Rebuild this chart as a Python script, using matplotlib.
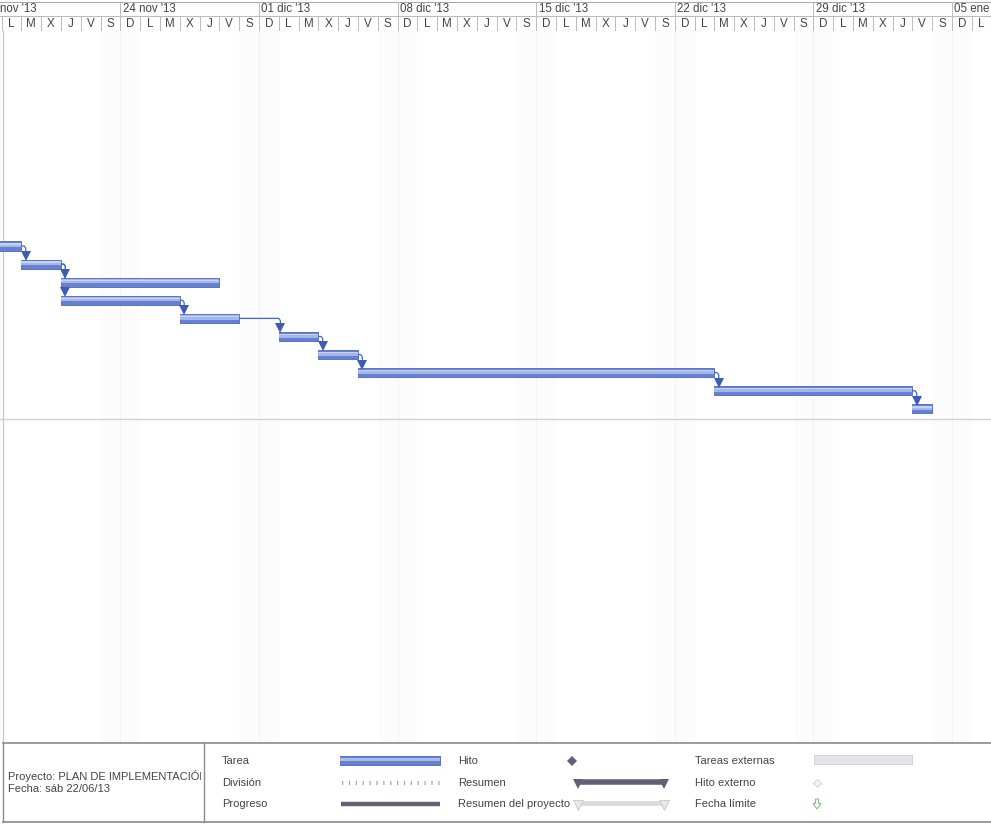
import matplotlib
matplotlib.use("Agg")
import matplotlib.pyplot as plt
from matplotlib.patches import Rectangle, Polygon

plt.rcParams['font.family'] = ['Liberation Sans', 'DejaVu Sans']

# ---- data -------------------------------------------------------------
# Day 0 = domingo 17 nov 2013
week_labels = ["17 nov '13", "24 nov '13", "01 dic '13", "08 dic '13",
               "15 dic '13", "22 dic '13", "29 dic '13", "05 ene '14"]
day_letters = ["D", "L", "M", "X", "J", "V", "S"]

task_start = [0, 2, 4, 4, 10, 15, 17, 19, 37, 47]
task_end = [2, 4, 12, 10, 13, 17, 19, 37, 47, 48]
task_pred = [None, 0, 1, 1, 3, 4, 5, 6, 7, 8]

legend_col1 = ["Tarea", "División", "Progreso"]
legend_col2 = ["Hito", "Resumen", "Resumen del proyecto"]
legend_col3 = ["Tareas externas", "Hito externo", "Fecha límite"]
project_info = ["Proyecto: PLAN DE IMPLEMENTACIÓN", "Fecha: sáb 22/06/13"]

# ---- geometry ---------------------------------------------------------
W, H = 991, 826
DAY_PX = 19.8
X0_PX = -18.2          # pixel position of day 0
ROW_PX = 18.1
ROW0_PX = 246          # pixel centre of first task row

x_lo = (0 - X0_PX) / DAY_PX
x_hi = (W - X0_PX) / DAY_PX

fig = plt.figure(figsize=(W / 100, H / 100), dpi=100)
fig.patch.set_facecolor("white")


def fax(x0, y0, x1, y1):
    """Axes placed by pixel box (top-left origin)."""
    return fig.add_axes([x0 / W, 1 - y1 / H, (x1 - x0) / W, (y1 - y0) / H])


GRID = "#bcbcbc"
TXT = "#444444"
FS = 8.0

# ---- timescale header -------------------------------------------------
hdr = fax(0, 2, W, 31)
hdr.set_xlim(x_lo, x_hi)
hdr.set_ylim(0, 2)
hdr.axis("off")
n_days = int(x_hi) + 2
hdr.axhline(2, color="#9a9a9a", lw=1.2)
hdr.axhline(1.05, color=GRID, lw=0.8)
hdr.axhline(0, color=GRID, lw=0.8)
for d in range(n_days):
    hdr.plot([d, d], [0, 1.05], color=GRID, lw=0.7)
    hdr.text(d + 0.5, 0.5, day_letters[d % 7], ha="center", va="center",
             fontsize=8.4, color=TXT, clip_on=True)
for i, lab in enumerate(week_labels):
    d = 7 * i
    hdr.plot([d, d], [1.05, 2], color=GRID, lw=0.7)
    hdr.text(d + 0.12, 1.5, lab, ha="left", va="center", fontsize=8.3,
             color=TXT, clip_on=True)

# ---- gantt body -------------------------------------------------------
ax = fax(0, 31, W, 742)
ax.set_xlim(x_lo, x_hi)
top_row = (31 - ROW0_PX) / ROW_PX
bot_row = (742 - ROW0_PX) / ROW_PX
ax.set_ylim(bot_row, top_row)
ax.axis("off")

# non-working days, very faint
for d in range(n_days):
    if d % 7 in (0, 6):
        ax.axvspan(d, d + 1, color="#fcfcfc", lw=0, zorder=0)
    if d % 7 == 0:
        ax.axvline(d, color="#f3f3f3", lw=0.8, zorder=0)
ax.axvline(x_lo + 3 / DAY_PX, color="#c8c8c8", lw=0.9, zorder=1)
ax.axhline(len(task_start) - 0.45, color="#d2d2d2", lw=1.0, zorder=1)

rows = list(range(len(task_start)))
dur = [e - s for s, e in zip(task_start, task_end)]
BAR_H = 0.5
ax.barh(rows, dur, left=task_start, height=BAR_H, color="#6680d2",
        edgecolor="#4d68bb", lw=0.6, zorder=3)
ax.barh([r - 0.05 for r in rows], dur, left=task_start, height=BAR_H * 0.45,
        color="#a3b6ee", lw=0, zorder=4)
ax.barh([r - 0.11 for r in rows], dur, left=task_start, height=BAR_H * 0.14,
        color="#c6d3f6", lw=0, zorder=4)

# dependency links
LINK = "#4a66bd"
for j, p in enumerate(task_pred):
    if p is None:
        continue
    xa = max(task_end[p] + 0.22, task_start[j] + 0.08)
    y_from = p
    y_to = j - BAR_H / 2 - 0.28
    ax.plot([task_end[p], xa - 0.08, xa, xa],
            [y_from, y_from, y_from + 0.12, y_to],
            color=LINK, lw=0.9, zorder=2, solid_joinstyle="round")
    ax.plot([xa], [j - BAR_H / 2 - 0.2], marker="v", markersize=6.5,
            color="#3f5cb3", markeredgewidth=0, zorder=5)

# ---- legend panel -----------------------------------------------------
lg = fax(0, 740, W, 826)
lg.set_xlim(0, W)
lg.set_ylim(H, 740)
lg.axis("off")
lg.plot([3, W], [743, 743], color="#8a8a8a", lw=1.2)
lg.plot([3, W], [822, 822], color="#8a8a8a", lw=1.2)
lg.plot([3, 3], [743, 822], color="#8a8a8a", lw=1.0)
lg.plot([204, 204], [743, 822], color="#8a8a8a", lw=1.0)

# project information cell (text clipped to the cell)
info = fax(4, 744, 201, 821)
info.set_xlim(4, 201)
info.set_ylim(821, 744)
info.axis("off")
info.text(8, 776, project_info[0], fontsize=FS, color=TXT, va="center",
          clip_on=True)
info.text(8, 789, project_info[1], fontsize=FS, color=TXT, va="center",
          clip_on=True)

ys = [761, 783, 804]
for lab, y in zip(legend_col1, ys):
    lg.text(222, y, lab, fontsize=FS, color=TXT, va="center")
for lab, y in zip(legend_col2, ys):
    lg.text(458, y, lab, fontsize=FS, color=TXT, va="center")
for lab, y in zip(legend_col3, ys):
    lg.text(695, y, lab, fontsize=FS, color=TXT, va="center")

# Tarea
lg.add_patch(Rectangle((340, 756), 100, 9, fc="#6680d2", ec="#4d68bb", lw=0.6))
lg.add_patch(Rectangle((340, 757.5), 100, 3.8, fc="#a9bbef", lw=0))
# División
lg.plot([342, 440], [783, 783], color="#9aa8c8", lw=3.0,
        ls=(0, (0.3, 1.35)), dash_capstyle="butt")
# Progreso
lg.plot([341, 440], [804, 804], color="#5f6272", lw=3.2,
        solid_capstyle="butt")
# Hito
lg.plot([572], [761], marker="D", markersize=5, color="#5d6178", mew=0)
# Resumen
lg.plot([578, 664], [782, 782], color="#5f6272", lw=4.0,
        solid_capstyle="butt")
lg.plot([578, 664], [784, 784], marker="v", markersize=6.5, color="#5f6272",
        lw=0, mew=0)
# Resumen del proyecto
lg.plot([578, 664], [803, 803], color="#dcdcdc", lw=3.5,
        solid_capstyle="butt")
lg.plot([578, 664], [805, 805], marker="v", markersize=6.5, color="#e8e8e8",
        lw=0, mew=0.6, markeredgecolor="#c8c8c8")
# Tareas externas
lg.add_patch(Rectangle((814, 755), 98, 9, fc="#e4e4e8", ec="#d0d0d5", lw=0.6))
# Hito externo
lg.plot([817], [783], marker="D", markersize=4.5, color="#f2f2f2",
        mec="#d0d0d0", mew=0.6)
# Fecha límite
lg.add_patch(Polygon([(815.5, 799), (818.5, 799), (818.5, 803.5), (821, 803.5),
                      (817, 809), (813, 803.5), (815.5, 803.5)],
                     closed=True, fc="white", ec="#7cc47c", lw=0.8))

fig.savefig("out.png", dpi=100, facecolor="white")
